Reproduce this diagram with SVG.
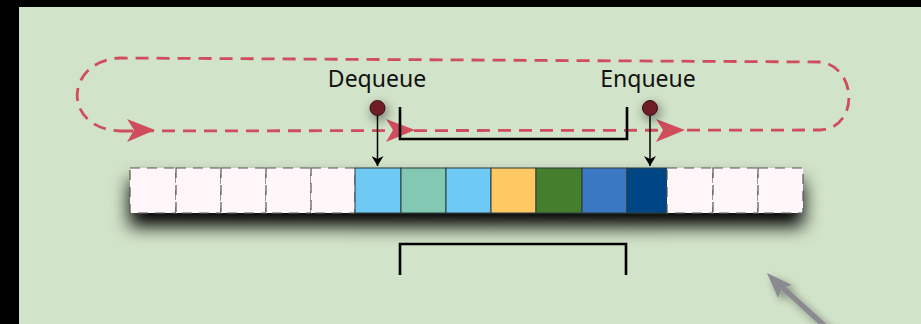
<svg xmlns="http://www.w3.org/2000/svg" width="921" height="324" viewBox="0 0 921 324">
<defs>
<style>
.lbl{font-family:"Noto Sans","Liberation Sans",sans-serif;font-size:23px;fill:#111;text-anchor:middle}
.empty{fill:#FFF6FA;stroke:#555;stroke-width:1.2;stroke-dasharray:10 7}
.full{stroke:#2a3a3a;stroke-width:1}
.loop{fill:none;stroke:#CF4D5D;stroke-width:2.8;stroke-dasharray:13 8}
.head{fill:#CF4D5D}
.bracket{fill:none;stroke:#000;stroke-width:2.6}
.ptr{stroke:#000;stroke-width:1.5;fill:none}
.dot{fill:#6E1F27;stroke:#3a0e12;stroke-width:1}
</style>
<filter id="sh" x="-10%" y="-60%" width="120%" height="280%">
<feGaussianBlur in="SourceAlpha" stdDeviation="9"/>
<feOffset dx="0" dy="13" result="b"/>
<feComponentTransfer><feFuncA type="linear" slope="1"/></feComponentTransfer>
<feMerge><feMergeNode/><feMergeNode in="SourceGraphic"/></feMerge>
</filter>
<filter id="glow" x="-200%" y="-200%" width="500%" height="500%">
<feGaussianBlur in="SourceAlpha" stdDeviation="6"/>
<feOffset dx="2" dy="4"/>
<feComponentTransfer><feFuncA type="linear" slope="0.55"/></feComponentTransfer>
<feMerge><feMergeNode/><feMergeNode in="SourceGraphic"/></feMerge>
</filter>
<filter id="gsh" x="-50%" y="-50%" width="200%" height="200%">
<feGaussianBlur in="SourceAlpha" stdDeviation="4"/>
<feOffset dx="4" dy="4"/>
<feComponentTransfer><feFuncA type="linear" slope="0.4"/></feComponentTransfer>
<feMerge><feMergeNode/><feMergeNode in="SourceGraphic"/></feMerge>
</filter>
<marker id="ah" viewBox="0 0 10 12" refX="10" refY="6" markerWidth="10" markerHeight="12" markerUnits="userSpaceOnUse" orient="auto">
<path d="M0,0 L10,6 L0,12 L3,6 Z" fill="#000"/>
</marker>
</defs>
<rect x="0" y="0" width="921" height="324" fill="#000"/>
<rect x="19" y="7" width="902" height="317" fill="#D1E3C8"/>

<g id="connectors">
<path class="loop" d="M120,131 L820,130 C860,128 857,66 820,62 L120,58 C66,60 60,128 120,131"/>
<polygon class="head" points="155,130 127,119 134,130 127,142"/>
<polygon class="head" points="415,130 386,119 393,130 386,142"/>
<polygon class="head" points="685,130 656,119 663,130 656,142"/>
<path class="bracket" d="M400,107 V139 H627 V107"/>
<path class="bracket" d="M400,275 V244 H626 V275"/>
<g filter="url(#gsh)">
<line x1="840" y1="340" x2="782" y2="287" stroke="#8A8A90" stroke-width="5.5"/>
<polygon points="767,273 792,285 782,288 778,298" fill="#8A8A90"/>
</g>
</g>

<g id="queue" filter="url(#sh)">
<rect class="empty" x="130" y="168" width="46" height="45"/>
<rect class="empty" x="176" y="168" width="45" height="45"/>
<rect class="empty" x="221" y="168" width="45" height="45"/>
<rect class="empty" x="266" y="168" width="45" height="45"/>
<rect class="empty" x="311" y="168" width="44" height="45"/>
<rect class="full" x="355" y="168" width="46" height="45" fill="#6EC9F5"/>
<rect class="full" x="401" y="168" width="45" height="45" fill="#83C8B3"/>
<rect class="full" x="446" y="168" width="45" height="45" fill="#6EC9F5"/>
<rect class="full" x="491" y="168" width="45" height="45" fill="#FFC862"/>
<rect class="full" x="536" y="168" width="46" height="45" fill="#457F2E"/>
<rect class="full" x="582" y="168" width="45" height="45" fill="#3A78C3"/>
<rect class="full" x="627" y="168" width="40" height="45" fill="#064584"/>
<rect class="empty" x="667" y="168" width="46" height="45"/>
<rect class="empty" x="713" y="168" width="45" height="45"/>
<rect class="empty" x="758" y="168" width="45" height="45"/>
</g>

<g id="dequeue">
<text class="lbl" x="377" y="87">Dequeue</text>
<line class="ptr" x1="377.5" y1="112" x2="377.5" y2="166" marker-end="url(#ah)"/>
<circle class="dot" cx="377.5" cy="108" r="7.5" filter="url(#glow)"/>
</g>

<g id="enqueue">
<text class="lbl" x="648" y="87">Enqueue</text>
<line class="ptr" x1="650" y1="112" x2="650" y2="166" marker-end="url(#ah)"/>
<circle class="dot" cx="650" cy="108" r="7.5" filter="url(#glow)"/>
</g>
</svg>
